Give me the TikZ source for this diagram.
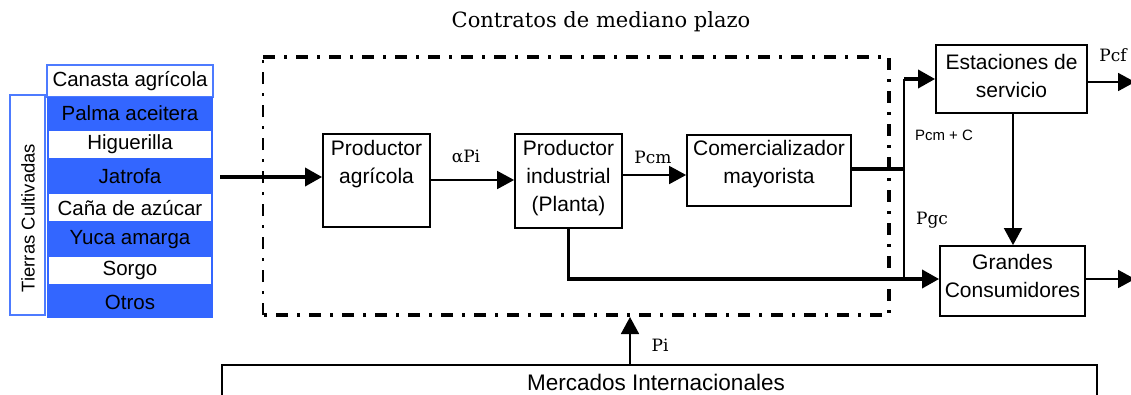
\documentclass[tikz,border=0pt]{standalone}
\usepackage{fontspec}
\setmainfont{Liberation Sans}
\newfontfamily\seriff{DejaVu Serif}
\usetikzlibrary{arrows.meta}
\definecolor{cblue}{HTML}{3366FF}
\definecolor{cblueline}{HTML}{4D7BFF}
\begin{document}
\begin{tikzpicture}[x=1pt,y=-1pt,
  box/.style={draw, line width=1.8pt, inner sep=0pt},
  btxt/.style={font=\fontsize{21}{28}\selectfont, align=center, inner sep=0pt},
  stxt/.style={font=\fontsize{20.5}{22}\selectfont, inner sep=0pt},
  lbl/.style={font=\seriff\fontsize{17}{20}\selectfont, inner sep=0pt},
  tip/.style={-{Triangle[length=17pt,width=18pt]}},
  thinln/.style={line width=1.8pt},
  thickln/.style={line width=3.5pt},
  dashdot/.style={line width=3.5pt, dash pattern=on 12pt off 9pt on 3pt off 9pt},
  bluerow/.style={fill=cblue, draw=none, inner sep=0pt, minimum width=166pt, minimum height=31.6pt},
  whiterow/.style={fill=white, draw=none, inner sep=0pt, minimum width=162pt, minimum height=27pt},
]
\useasboundingbox (0,0) rectangle (1131,394);
\fill[white] (0,0) rectangle (1131,394);

% title
\node[lbl, font=\seriff\fontsize{21}{24}\selectfont] (title) at (601,22) {Contratos de mediano plazo};

% left panel
\node[draw=cblueline, line width=1.2pt, fill=white, minimum width=35pt, minimum height=220pt, inner sep=0pt] (tierras) at (27.5,205) {};
\node[stxt, font=\fontsize{18.5}{22}\selectfont, rotate=90] (tierrastxt) at (28,218) {Tierras Cultivadas};
\node[draw=cblueline, line width=1.2pt, fill=white, minimum width=166pt, minimum height=32pt, inner sep=0pt] (canasta) at (130,81) {};
\node[stxt] at (130,81) {Canasta agrícola};
\node[bluerow] (r1) at (130,112.8) {};
\node[bluerow] (r2) at (130,144.4) {};
\node[bluerow] (r3) at (130,176.0) {};
\node[bluerow] (r4) at (130,207.6) {};
\node[bluerow] (r5) at (130,239.2) {};
\node[bluerow] (r6) at (130,270.8) {};
\node[bluerow] (r7) at (130,302.4) {};
\node[whiterow] (w2) at (130,144.4) {};
\node[whiterow] (w4) at (130,207.6) {};
\node[whiterow] (w6) at (130,270.8) {};
\node[stxt] at (r1) {Palma aceitera};
\node[stxt] at (r2) {Higuerilla};
\node[stxt] at (r3) {Jatrofa};
\node[stxt] at (r4) {Caña de azúcar};
\node[stxt] at (r5) {Yuca amarga};
\node[stxt] at (r6) {Sorgo};
\node[stxt] at (r7) {Otros};

% dash-dot frame
\draw[dashdot] (263,57) -- (889,57) -- (889,315) -- (263,315);
\draw[dashdot, line width=2pt] (263,315) -- (263,57);

% boxes
\node[box, minimum width=107pt, minimum height=93pt] (pa) at (376.5,180.5) {};
\node[btxt] at (376.5,164) {Productor\\agrícola};
\node[box, minimum width=107pt, minimum height=94pt] (pind) at (568.5,181) {};
\node[btxt] at (568.5,178) {Productor\\industrial\\(Planta)};
\node[box, minimum width=164pt, minimum height=71pt] (cm) at (769,170.5) {};
\node[btxt] at (769,164) {Comercializador\\mayorista};
\node[box, minimum width=151pt, minimum height=68pt] (es) at (1011.5,79) {};
\node[btxt] at (1011.5,76) {Estaciones de\\servicio};
\node[box, minimum width=145pt, minimum height=70pt] (gc) at (1012.5,281) {};
\node[btxt] at (1012.5,276) {Grandes\\Consumidores};
\node[box, minimum width=875pt, minimum height=50pt, anchor=north] (mi) at (659.5,364) {};
\node[btxt, font=\fontsize{22.5}{28}\selectfont] at (656,382) {Mercados Internacionales};

% connectors
\coordinate (src) at (220,177);
\draw[thickln, tip] (src) -- (pa.west |- src);
\draw[thinln, tip] (pa.east |- 0,180) -- (pind.west |- 0,180);
\node[lbl] (alpha) at (466,157) {αPi};
\draw[thinln, tip] (pind.east |- 0,175) -- (cm.west |- 0,175);
\node[lbl] (pcm) at (653,157) {Pcm};

\coordinate (j1) at (904,169);
\coordinate (j2) at (904,279);
\draw[thickln] (cm.east |- j1) -- (j1);
\draw[thinln] (j1) -- (j1 |- 0,79);
\draw[thickln, tip] (j1 |- 0,79) -- (es.west |- 0,79);
\draw[thinln] (j1) -- (j2);
\draw[thickln] (pind.south) -- (pind.south |- j2) -- (j2);
\draw[thickln, tip] (j2) -- (gc.west |- j2);
\node[stxt, font=\fontsize{15}{18}\selectfont] (pcmc) at (944,135) {Pcm + C};
\node[lbl] (pgc) at (932,220) {Pgc};

\draw[thinln, tip] (es.south -| 1013,0) -- (gc.north -| 1013,0);
\coordinate (e1) at (1135,82);
\coordinate (e2) at (1135,279);
\draw[thinln, tip] (es.east |- e1) -- (e1);
\draw[thinln, tip] (gc.east |- e2) -- (e2);
\node[lbl] (pcf) at (1113,55) {Pcf};

\draw[thinln, tip] (mi.north -| 630,0) -- (630,317);
\node[lbl] (pi) at (660,345) {Pi};
\end{tikzpicture}
\end{document}
